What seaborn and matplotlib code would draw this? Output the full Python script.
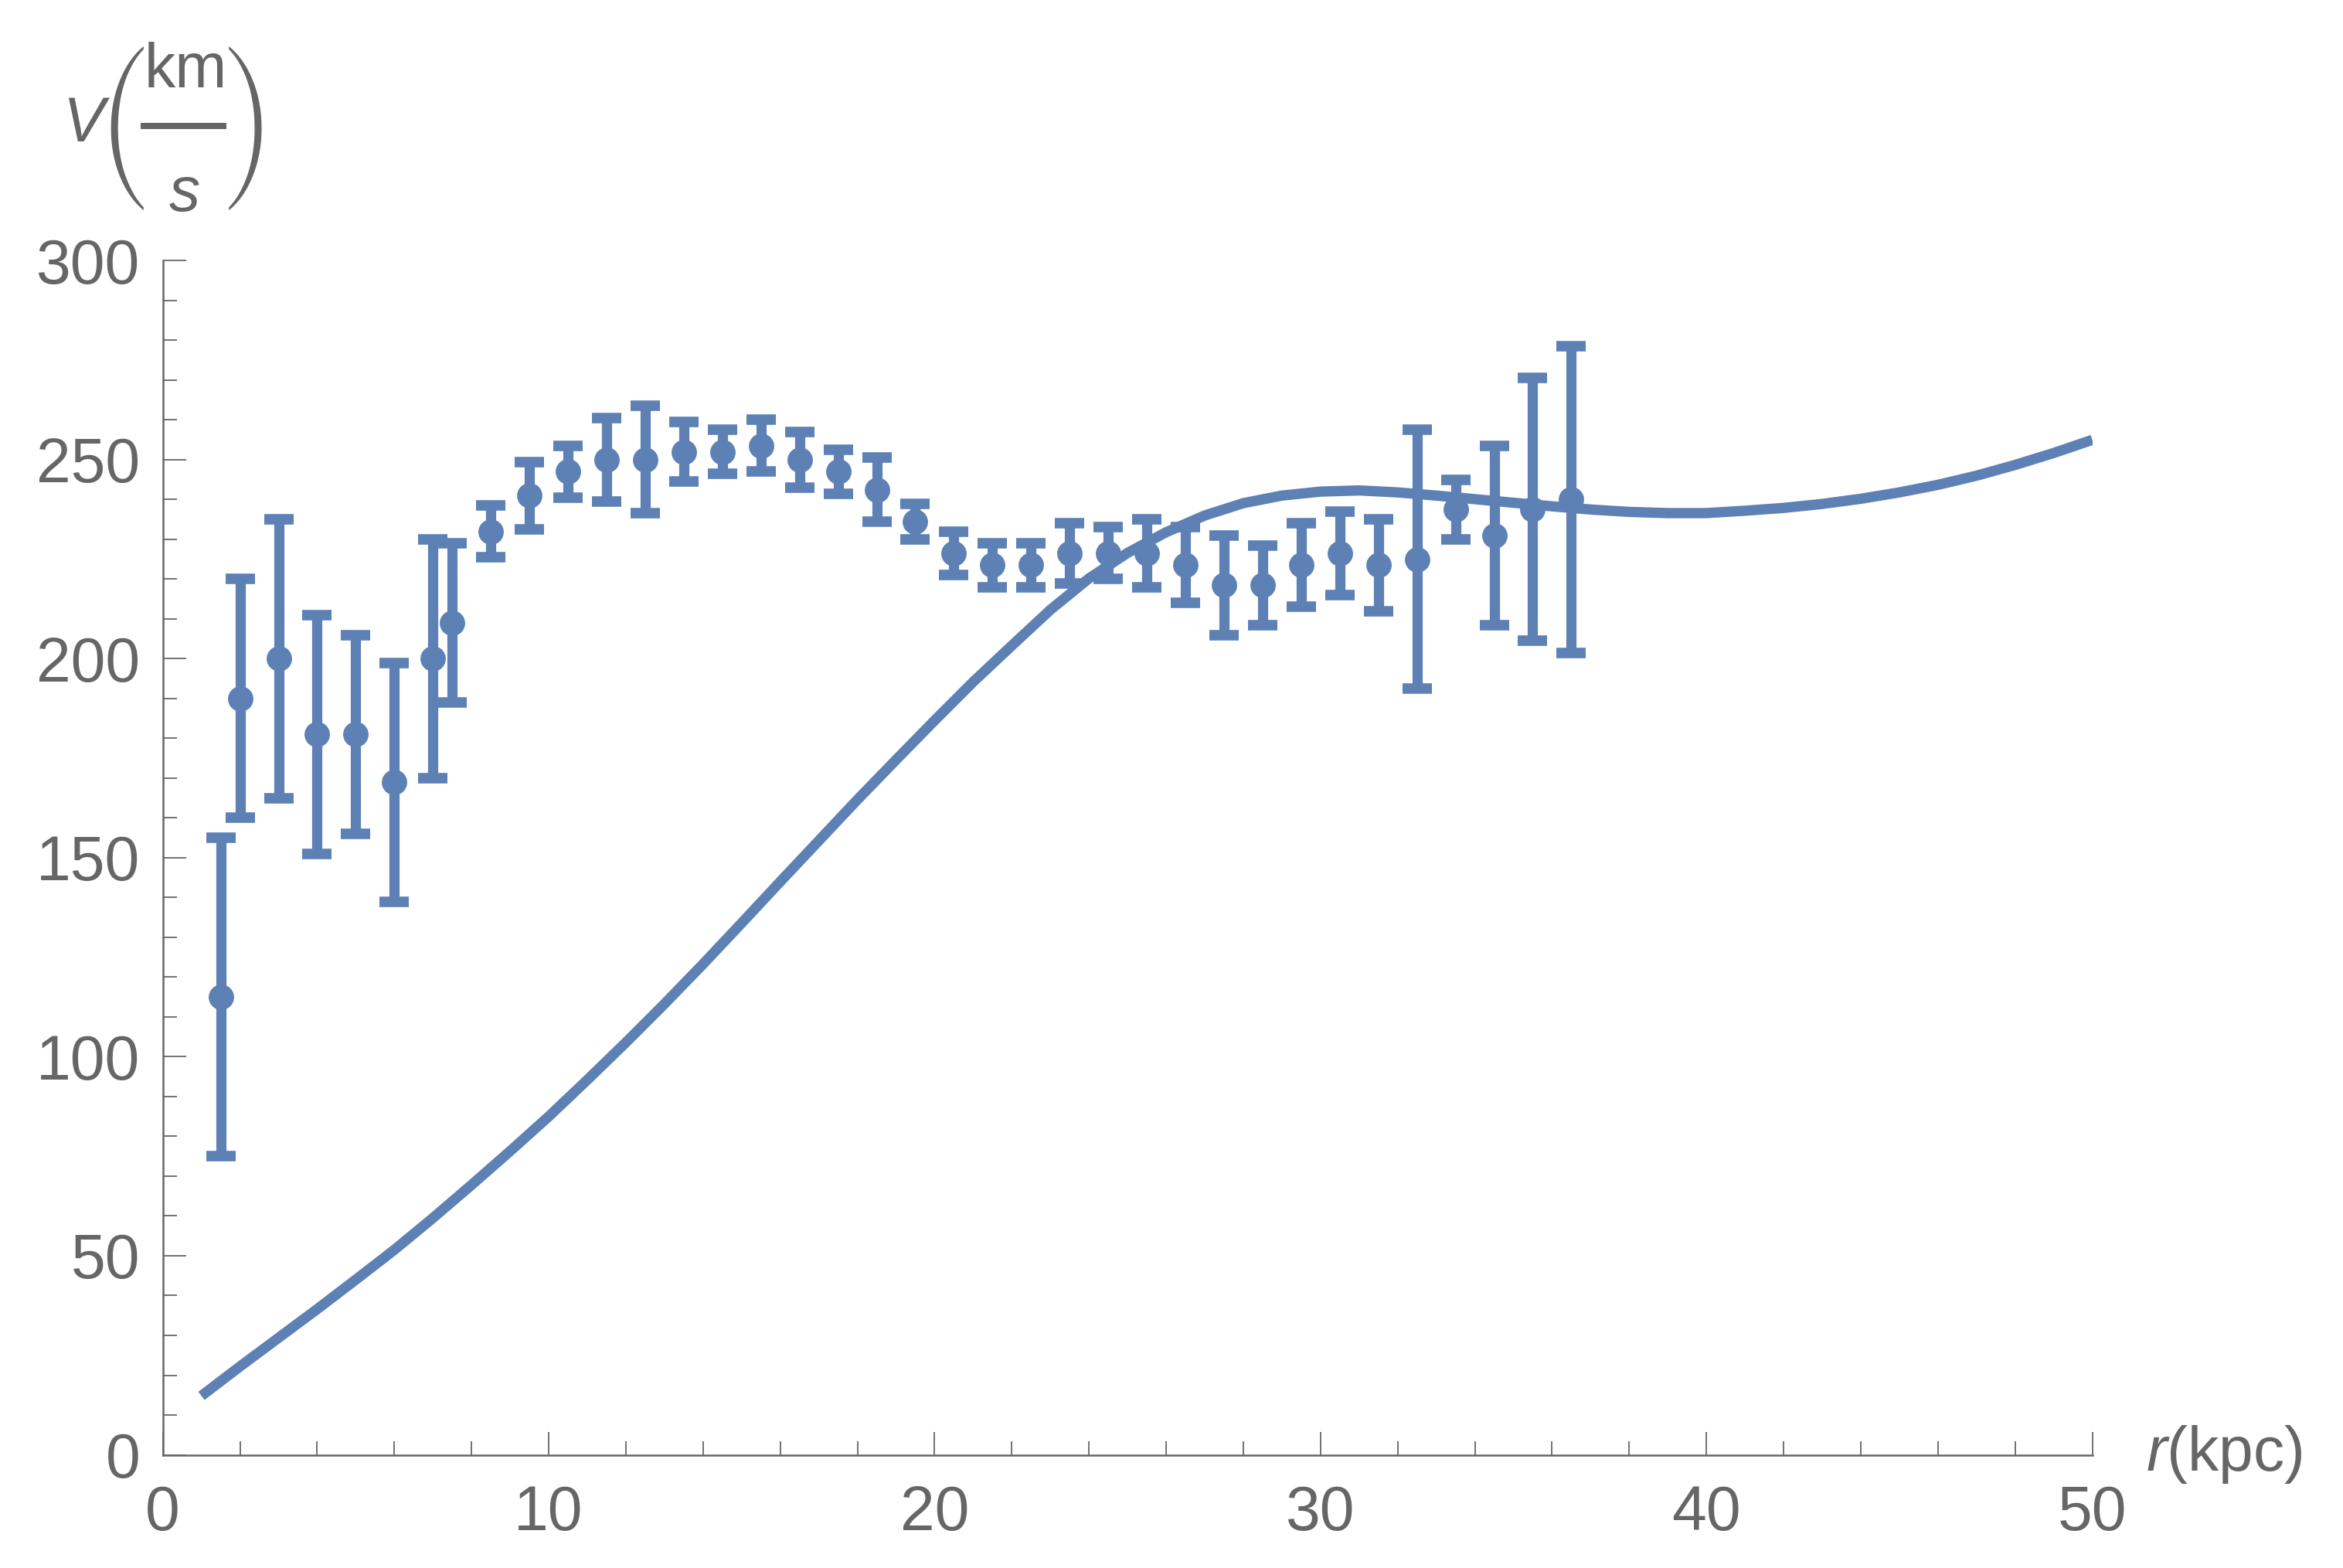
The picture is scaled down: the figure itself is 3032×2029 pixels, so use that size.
import matplotlib
matplotlib.use("Agg")
import matplotlib.pyplot as plt
from matplotlib.lines import Line2D
from matplotlib.ticker import MultipleLocator
import seaborn as sns

# observed rotation curve (r in kpc, v in km/s, symmetric error)
r_obs = [1.5, 2, 3, 4, 5, 6, 7, 7.5, 8.5, 9.5, 10.5, 11.5, 12.5, 13.5, 14.5,
         15.5, 16.5, 17.5, 18.5, 19.5, 20.5, 21.5, 22.5, 23.5, 24.5, 25.5,
         26.5, 27.5, 28.5, 29.5, 30.5, 31.5, 32.5, 33.5, 34.5, 35.5, 36.5]
v_obs = [115, 190, 200, 181, 181, 169, 200, 209, 232, 241, 247, 250, 250,
         252, 252, 253.5, 250, 247, 242.5, 234.5, 226.5, 223.5, 223.5, 226.5,
         226.5, 226.5, 223.5, 218.5, 218.5, 223.5, 226.5, 223.5, 225, 237.5,
         231, 237.5, 240]
v_err = [40, 30, 35, 30, 25, 30, 30, 20, 6.5, 8.5, 6.5, 10.5, 13.5, 7.5, 5.5,
         6.5, 7, 5.5, 8, 4.5, 5.5, 5.5, 5.5, 7.5, 6.5, 8.5, 9.5, 12.5, 10,
         10.5, 10.5, 11.5, 32.5, 7.5, 22.5, 33, 38.5]

# model curve, every kpc
r_fit = [1, 2, 3, 4, 5, 6, 7, 8, 9, 10, 11, 12, 13, 14, 15, 16, 17, 18, 19,
         20, 21, 22, 23, 24, 25, 26, 27, 28, 29, 30, 31, 32, 33, 34, 35, 36,
         37, 38, 39, 40, 41, 42, 43, 44, 45, 46, 47, 48, 49, 50]
v_fit = [14.8, 22.2, 29.4, 36.6, 44, 51.5, 59.5, 67.8, 76.3, 85, 94.2, 103.6,
         113.3, 123.3, 133.6, 144, 154.3, 164.6, 174.6, 184.5, 194.2, 203.3,
         212.3, 220.2, 226.6, 231.8, 236, 239.1, 241, 242, 242.3, 241.8, 241,
         240.1, 239.2, 238.3, 237.5, 236.9, 236.6, 236.6, 237.2, 237.9, 238.9,
         240.2, 241.8, 243.7, 246, 248.7, 251.7, 255]

x_ticks = [0, 10, 20, 30, 40, 50]
y_ticks = [0, 50, 100, 150, 200, 250, 300]

BLUE = "#5e81b5"
GRAY = "#666666"

sns.set_theme(style="white")
plt.rcParams["font.family"] = ["Liberation Sans", "DejaVu Sans"]
plt.rcParams["mathtext.fontset"] = "custom"
plt.rcParams["mathtext.rm"] = "Liberation Sans"
plt.rcParams["mathtext.it"] = "Liberation Sans:italic"
plt.rcParams["lines.solid_capstyle"] = "butt"

fig = plt.figure(figsize=(30.32, 20.29), dpi=100)
ax = fig.add_axes([0.0695, 0.0722, 0.8235, 0.7615])

sns.lineplot(x=r_fit, y=v_fit, ax=ax, color=BLUE, linewidth=9.6, sort=False)
ax.errorbar(r_obs, v_obs, yerr=v_err, fmt="none", ecolor=BLUE,
            elinewidth=9.5, capsize=14, capthick=9.8)
sns.scatterplot(x=r_obs, y=v_obs, ax=ax, color=BLUE, s=560, linewidth=0)

ax.set_xlim(0, 50)
ax.set_ylim(0, 300)
ax.set_xticks(x_ticks)
ax.set_yticks(y_ticks)
ax.xaxis.set_minor_locator(MultipleLocator(2))
ax.yaxis.set_minor_locator(MultipleLocator(10))

sns.despine(ax=ax)
for side in ["left", "bottom"]:
    ax.spines[side].set_color(GRAY)
    ax.spines[side].set_linewidth(1.8)

ax.tick_params(which="both", direction="in", color=GRAY, width=1.3,
               labelcolor=GRAY, labelsize=58, left=True, bottom=True)
ax.tick_params(which="major", length=21.6)
ax.tick_params(which="minor", length=13)
ax.tick_params(axis="y", which="both", pad=21)
ax.tick_params(axis="x", which="both", pad=28)
ax.set_xlabel("")
ax.set_ylabel("")

# y label  V(km/s) written as a stacked fraction in big parentheses
fig.text(0.0268, 0.9098, "V", style="italic", ha="left", va="baseline",
         fontsize=58, color=GRAY)
fig.text(0.0537, 0.9182, "(", family="STIXSizeFourSym", ha="center",
         va="center", fontsize=50, color=GRAY)
fig.text(0.1052, 0.9182, ")", family="STIXSizeFourSym", ha="center",
         va="center", fontsize=50, color=GRAY)
fig.text(0.0792, 0.9443, "km", ha="center", va="baseline", fontsize=58,
         color=GRAY)
fig.text(0.0788, 0.8655, "s", style="italic", ha="center", va="baseline",
         fontsize=58, color=GRAY)
fig.add_artist(Line2D([0.060, 0.0966], [0.9197, 0.9197],
                      transform=fig.transFigure, color=GRAY, linewidth=5.8))

fig.text(0.9159, 0.0621, r"$r$(kpc)", ha="left", va="baseline",
         fontsize=58, color=GRAY)

fig.savefig("out.png", dpi=100, facecolor="white")
